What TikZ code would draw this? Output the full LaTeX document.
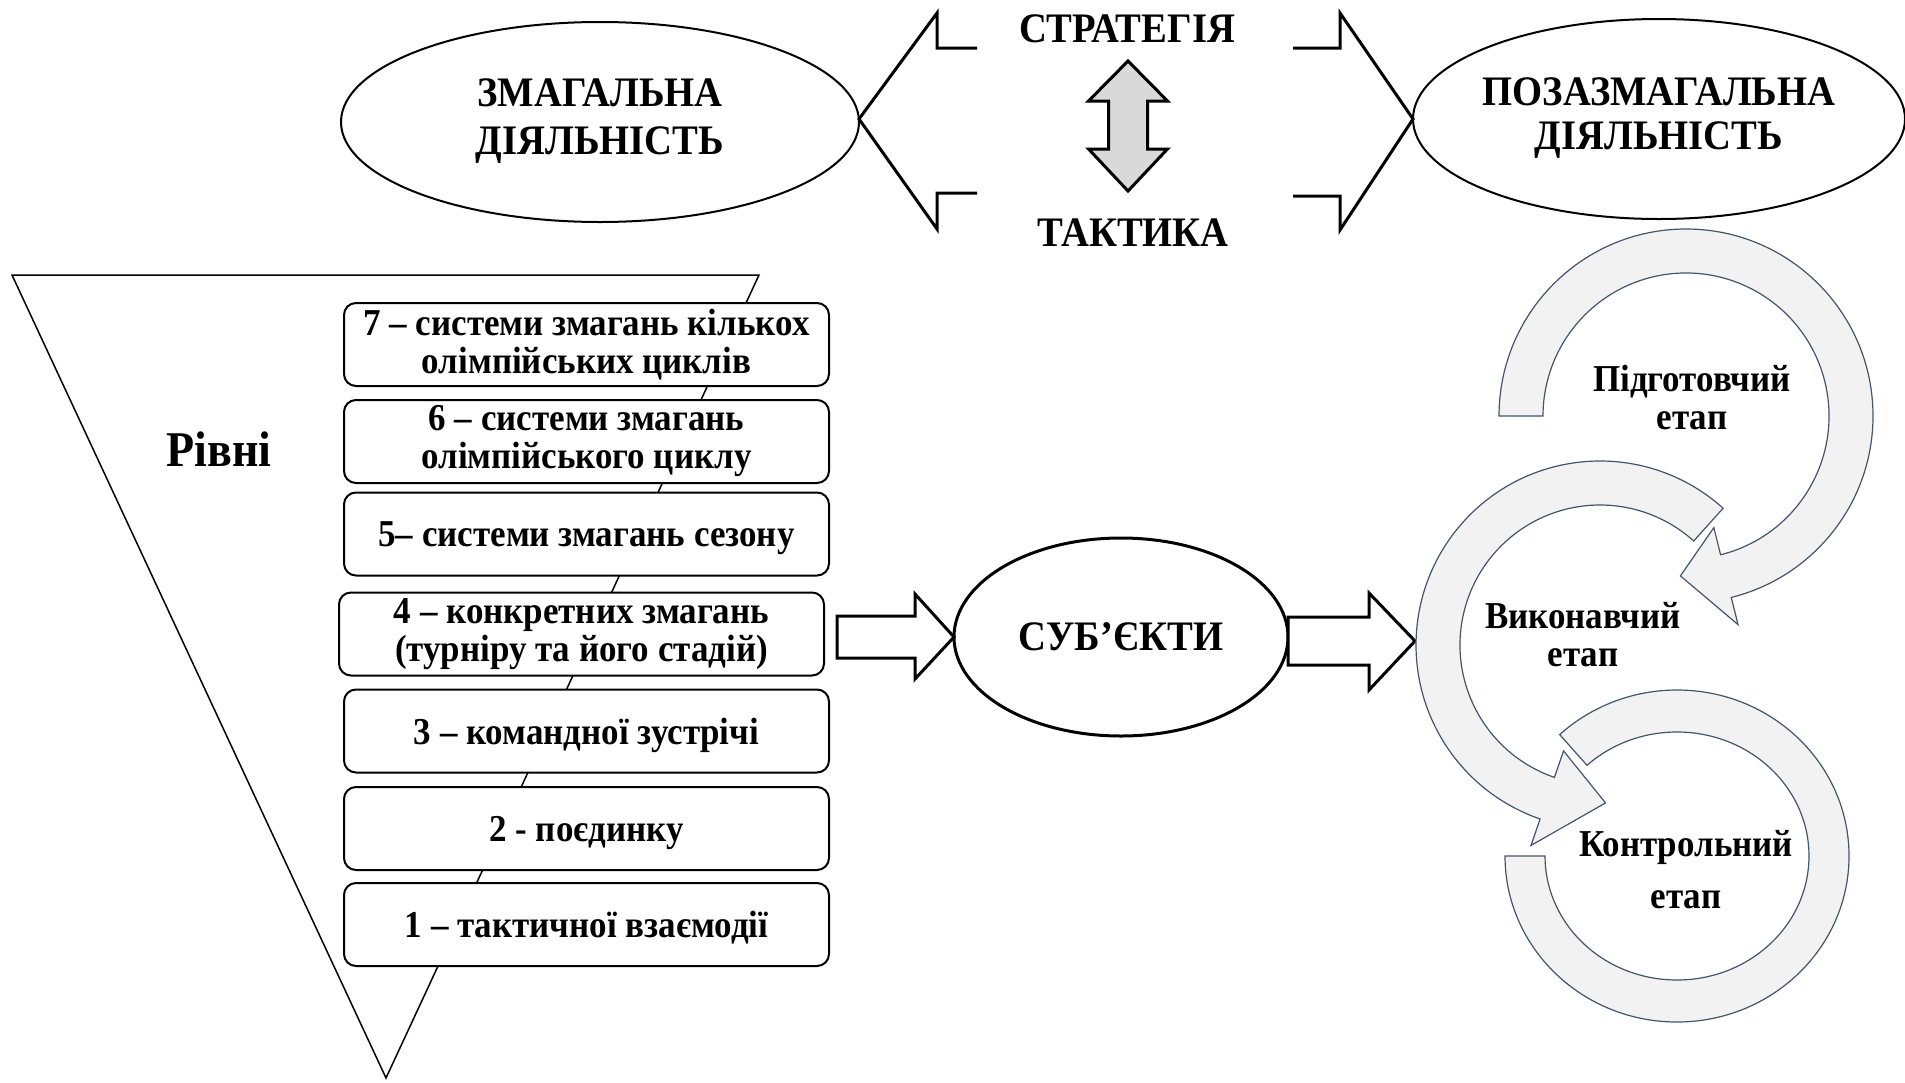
\documentclass[tikz,border=0pt]{standalone}
\usepackage{fontspec}
\setmainfont{Liberation Serif}[FakeStretch=0.92]
\usetikzlibrary{calc}

\definecolor{stagefill}{RGB}{242,242,242}
\definecolor{stageline}{RGB}{68,84,106}
\definecolor{swapfill}{RGB}{217,217,217}

\begin{document}
\begin{tikzpicture}[x=0.5pt,y=-0.5pt,
    big text/.style={font=\bfseries\fontsize{21}{24}\selectfont,align=center,inner sep=0pt},
    level box/.style={draw,line width=1pt,rounded corners=6pt,fill=white,
      minimum width=242.5pt,minimum height=41.5pt,inner sep=0pt,align=center,
      font=\bfseries\fontsize{19}{19}\selectfont},
    one line/.style={text depth=0pt},
    stage text/.style={font=\bfseries\fontsize{19}{19}\selectfont,align=center,inner sep=0pt},
    stage arrow/.style={fill=stagefill,draw=stageline,line width=0.6pt},
    block arrow/.style={draw,fill=white,line width=1.5pt}]

  \useasboundingbox (0,0) rectangle (1905,1082);

  % top row
  \node[big text] (comp) at (600,121) {ЗМАГАЛЬНА\\ДІЯЛЬНІСТЬ};
  \draw[line width=1pt] (600,122) ellipse [x radius=259, y radius=100];
  \node[big text,font=\bfseries\fontsize{21}{22}\selectfont] (noncomp) at (1659,118) {ПОЗАЗМАГАЛЬНА\\ДІЯЛЬНІСТЬ};
  \draw[line width=1pt] (1659,119) ellipse [x radius=246, y radius=100];

  \node[big text] (strat) at (1127,29) {СТРАТЕГІЯ};
  \node[big text] (tact) at (1133,233) {ТАКТИКА};

  \coordinate (ltip) at (859,119);
  \coordinate (rtip) at (1413,119);
  \draw[line width=1.5pt] ($(ltip)+(118,-71)$) -- ++(-40,0) -- ++(0,-35) -- (ltip)
    -- ++(78,110) -- ++(0,-36) -- ++(40,0);
  \draw[line width=1.5pt] ($(rtip)+(-120,-71)$) -- ++(47,0) -- ++(0,-35) -- (rtip)
    -- ++(-73,111) -- ++(0,-34) -- ++(-47,0);

  % strategy <-> tactics
  \draw[line width=1.5pt,fill=swapfill] (1128,61) -- (1167.5,101) -- (1147.5,101)
    -- (1147.5,149) -- (1167.5,149) -- (1128,191) -- (1088.5,149) -- (1108.5,149)
    -- (1108.5,101) -- (1088.5,101) -- cycle;

  % levels
  \draw[line width=0.75pt] (12,275) -- (759,275) -- (386,1078) -- cycle;
  \node[font=\bfseries\fontsize{25}{25}\selectfont] (rivni) at (219,449) {Рівні};

  \node[level box] (l7) at (586.5,344.5) {7 – системи змагань кількох\\олімпійських циклів};
  \node[level box] (l6) at (586.5,441.5) {6 – системи змагань\\олімпійського циклу};
  \node[level box,one line] (l5) at (586.5,534) {5– системи змагань сезону};
  \node[level box] (l4) at (581.5,634) {4 – конкретних змагань\\(турніру та його стадій)};
  \node[level box,one line] (l3) at (586.5,731) {3 – командної зустрічі};
  \node[level box,one line] (l2) at (586.5,828.5) {2 - поєдинку};
  \node[level box,one line] (l1) at (586.5,924.5) {1 – тактичної взаємодії};

  % subjects
  \node[big text] (subj) at (1121,637) {СУБ’ЄКТИ};
  \draw[line width=1.5pt] (subj.center) ellipse [x radius=167, y radius=99];

  \coordinate (sw) at ($(subj.center)+(-167,0)$);
  \coordinate (se) at ($(subj.center)+(167,0)$);
  \coordinate (rt) at ($(se)+(127,4)$);
  \draw[block arrow] (sw) -- ++(-39,-43) -- ++(0,22) -- ++(-78,0) -- ++(0,42)
    -- ++(78,0) -- ++(0,21) -- cycle;
  \draw[block arrow] (rt) -- ++(-46,-48) -- ++(0,24) -- ++(-81,0) -- ++(0,48)
    -- ++(81,0) -- ++(0,25) -- cycle;

  % stages
  \coordinate (c1) at (1686,416);
  \coordinate (c2) at (1600,645);
  \coordinate (c3) at (1677,856);

  \draw[stage arrow] ($(c3)+(180:172 and 166)$)
    arc[start angle=180, end angle=-133, x radius=172, y radius=166]
    -- ($(c3)+(-133:132 and 124)$)
    arc[start angle=-133, end angle=180, x radius=132, y radius=124] -- cycle;
  \draw[stage arrow] ($(c2)+(-48:184)$) arc[start angle=-48, end angle=-251, radius=184]
    -- ($(c2)+(-251:212)$) -- ($(c2)+(-272:158)$) -- ($(c2)+(-251:112)$)
    -- ($(c2)+(-251:140)$) arc[start angle=-251, end angle=-48, radius=140] -- cycle;
  \draw[stage arrow] ($(c1)+(180:187)$) arc[start angle=180, end angle=436, radius=187]
    -- ($(c1)+(76:215)$) -- ($(c1)+(92:160)$) -- ($(c1)+(76:115)$)
    -- ($(c1)+(76:143)$) arc[start angle=436, end angle=180, radius=143] -- cycle;

  \node[stage text] (prep) at (1692,397) {Підготовчий\\етап};
  \node[stage text] (exec) at (1583,635) {Виконавчий\\етап};
  \node[stage text,font=\bfseries\fontsize{19}{26}\selectfont] (ctrl) at (1686,870) {Контрольний\\етап};
\end{tikzpicture}
\end{document}
